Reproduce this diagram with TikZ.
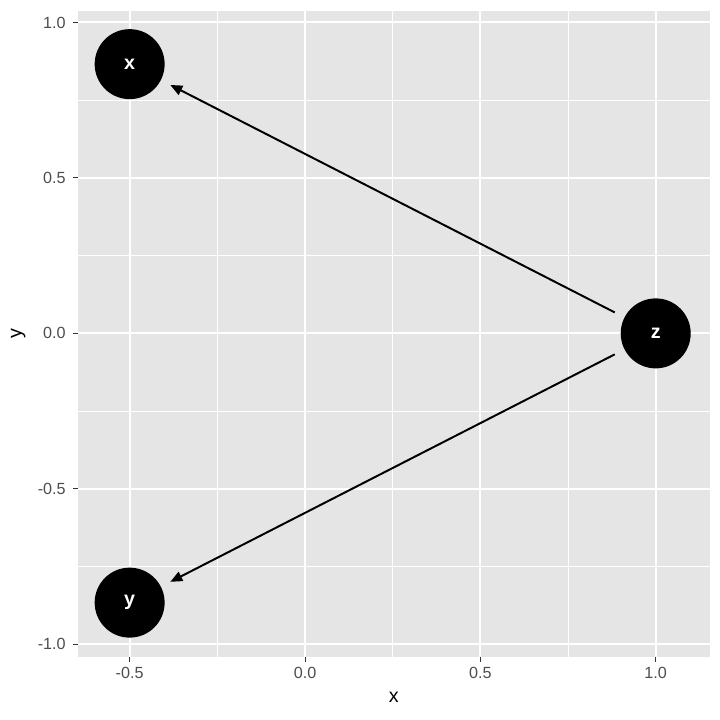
\documentclass[tikz,border=0pt]{standalone}
\usepackage{fontspec}
\setmainfont{Liberation Sans}
\usetikzlibrary{arrows.meta}

\definecolor{panelgrey}{HTML}{E5E5E5}
\definecolor{ticktext}{HTML}{4D4D4D}
\definecolor{tickmark}{HTML}{333333}

\tikzset{
  dagnode/.style={circle, fill=black, minimum size=1.75cm, inner sep=0pt,
    text=white, font=\bfseries\fontsize{14}{14}\selectfont},
  dagedge/.style={line width=1.4pt, shorten >=0.26cm, shorten <=0.27cm,
    -{Triangle[length=0.3cm, width=0.25cm]}},
  ticklabel/.style={text=ticktext, inner sep=0pt, font=\fontsize{11.5}{11.5}\selectfont},
}

\begin{document}
\begin{tikzpicture}[x=8.77cm, y=7.775cm]
  \useasboundingbox (-0.8697,-1.2428) rectangle (1.1833,1.0723);

  % Panel
  \fill[panelgrey] (-0.648,-1.04) rectangle (1.154,1.036);

  % Gitter (minor)
  \foreach \gx in {-0.25,0.25,0.75}
    \draw[white, line width=0.7pt] (\gx,-1.04) -- (\gx,1.036);
  \foreach \gy in {-0.75,-0.25,0.25,0.75}
    \draw[white, line width=0.7pt] (-0.648,\gy) -- (1.154,\gy);

  % Gitter (major)
  \foreach \gx in {-0.5,0,0.5,1}
    \draw[white, line width=1.4pt] (\gx,-1.04) -- (\gx,1.036);
  \foreach \gy in {-1,-0.5,0,0.5,1}
    \draw[white, line width=1.4pt] (-0.648,\gy) -- (1.154,\gy);

  % Achsen: Ticks und Beschriftung
  \foreach \gx/\lab in {-0.5/-0.5, 0/0.0, 0.5/0.5, 1/1.0} {
    \draw[tickmark, line width=0.7pt] (\gx,-1.04) -- (\gx,-1.0561);
    \node[ticklabel, anchor=north] at (\gx,-1.0723) {\lab};
  }
  \foreach \gy/\lab in {-1/-1.0, -0.5/-0.5, 0/0.0, 0.5/0.5, 1/1.0} {
    \draw[tickmark, line width=0.7pt] (-0.648,\gy) -- (-0.6623,\gy);
    \node[ticklabel, anchor=east] at (-0.6815,\gy) {\lab};
  }
  \node[font=\fontsize{14}{14}\selectfont] (xtitle) at (0.253,-1.169) {x};
  \node[font=\fontsize{14}{14}\selectfont, rotate=90] (ytitle) at (-0.818,0) {y};

  % Knoten
  \node[dagnode] (x) at (-0.5,0.866) {x};
  \node[dagnode] (y) at (-0.5,-0.866) {y};
  \node[dagnode] (z) at (1,0) {z};

  % Kanten
  \draw[dagedge] (z) -- (x);
  \draw[dagedge] (z) -- (y);
\end{tikzpicture}
\end{document}
